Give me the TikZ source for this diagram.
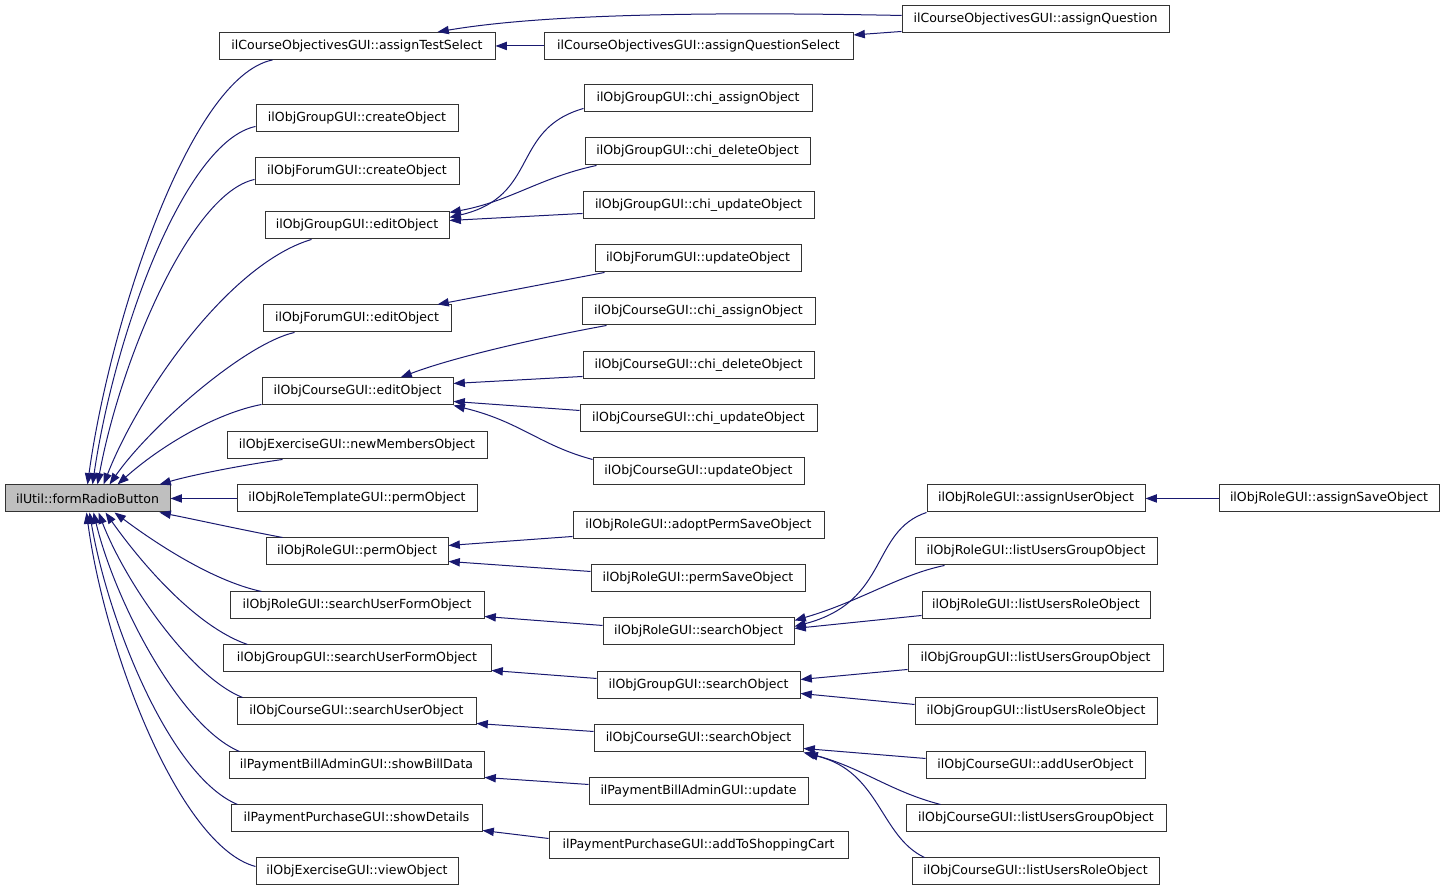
\documentclass[tikz,border=0pt]{standalone}
\usepackage{fontspec}
\setmainfont{DejaVu Sans}
\usetikzlibrary{arrows.meta,calc}
\definecolor{edgecol}{RGB}{25,25,112}
\definecolor{frbgray}{RGB}{191,191,191}
\begin{document}
\begin{tikzpicture}[x=0.75pt,y=-0.75pt,
  box/.style={draw=black!80, line width=0.75pt, fill=white, minimum height=20.25pt,
    inner xsep=2pt, inner ysep=0pt, font=\fontsize{9.4}{11}\selectfont},
  bw/.style={minimum width=#1*0.75pt},
  edge/.style={draw=edgecol, line width=0.75pt, -{Triangle[length=8.5pt,width=6.2pt]}}]
\fill[white] (0,0) rectangle (1445,892);
\useasboundingbox (0,0) rectangle (1445,892);
\begin{scope}[yshift=-1.1pt]
% column 0
\node[box,bw=165,fill=frbgray] (frb) at (87.5,497) {ilUtil::formRadioButton};

% column 1
\node[box,bw=276] (tsel)   at (357,44.5) {ilCourseObjectivesGUI::assignTestSelect};
\node[box,bw=202] (gcreate) at (357,117) {ilObjGroupGUI::createObject};
\node[box,bw=204] (fcreate) at (357,170) {ilObjForumGUI::createObject};
\node[box,bw=184] (gedit)  at (357,224) {ilObjGroupGUI::editObject};
\node[box,bw=188] (fedit)  at (357,317) {ilObjForumGUI::editObject};
\node[box,bw=191] (cedit)  at (357.5,390) {ilObjCourseGUI::editObject};
\node[box,bw=260] (exnew)  at (357,444) {ilObjExerciseGUI::newMembersObject};
\node[box,bw=240] (rtperm) at (357,497) {ilObjRoleTemplateGUI::permObject};
\node[box,bw=182] (rperm)  at (357,550) {ilObjRoleGUI::permObject};
\node[box,bw=254] (rsuf)   at (357,604) {ilObjRoleGUI::searchUserFormObject};
\node[box,bw=268] (gsuf)   at (357,657) {ilObjGroupGUI::searchUserFormObject};
\node[box,bw=239] (csuo)   at (356.5,710) {ilObjCourseGUI::searchUserObject};
\node[box,bw=255] (bill)   at (356.5,764) {ilPaymentBillAdminGUI::showBillData};
\node[box,bw=251] (pdet)   at (356.5,817) {ilPaymentPurchaseGUI::showDetails};
\node[box,bw=202] (exview) at (357,870) {ilObjExerciseGUI::viewObject};

% column 2
\node[box,bw=309] (qsel)   at (698.5,44.5) {ilCourseObjectivesGUI::assignQuestionSelect};
\node[box,bw=228] (gchia)  at (698,97) {ilObjGroupGUI::chi\_assignObject};
\node[box,bw=225] (gchid)  at (697.5,150) {ilObjGroupGUI::chi\_deleteObject};
\node[box,bw=231] (gchiu)  at (698.5,204) {ilObjGroupGUI::chi\_updateObject};
\node[box,bw=206] (fupd)   at (698,257) {ilObjForumGUI::updateObject};
\node[box,bw=233] (cchia)  at (698.5,310) {ilObjCourseGUI::chi\_assignObject};
\node[box,bw=231] (cchid)  at (698.5,364) {ilObjCourseGUI::chi\_deleteObject};
\node[box,bw=237] (cchiu)  at (698.5,417) {ilObjCourseGUI::chi\_updateObject};
\node[box,bw=211] (cupd)   at (698.5,470) {ilObjCourseGUI::updateObject};
\node[box,bw=251] (adopt)  at (698.5,524) {ilObjRoleGUI::adoptPermSaveObject};
\node[box,bw=214] (rpsave) at (698,577) {ilObjRoleGUI::permSaveObject};
\node[box,bw=191] (rsearch) at (698.5,630) {ilObjRoleGUI::searchObject};
\node[box,bw=203] (gsearch) at (698.5,684) {ilObjGroupGUI::searchObject};
\node[box,bw=209] (csearch) at (698.5,737) {ilObjCourseGUI::searchObject};
\node[box,bw=219] (bupd)   at (698.5,790) {ilPaymentBillAdminGUI::update};
\node[box,bw=299] (cart)   at (698.5,844) {ilPaymentPurchaseGUI::addToShoppingCart};

% column 3
\node[box,bw=267] (aq)      at (1035.5,18) {ilCourseObjectivesGUI::assignQuestion};
\node[box,bw=218] (rassign) at (1036,497) {ilObjRoleGUI::assignUserObject};
\node[box,bw=242] (rlug)    at (1036,550) {ilObjRoleGUI::listUsersGroupObject};
\node[box,bw=228] (rlur)    at (1036,604) {ilObjRoleGUI::listUsersRoleObject};
\node[box,bw=255] (glug)    at (1035.5,657) {ilObjGroupGUI::listUsersGroupObject};
\node[box,bw=242] (glur)    at (1036,710) {ilObjGroupGUI::listUsersRoleObject};
\node[box,bw=219] (cadd)    at (1035.5,764) {ilObjCourseGUI::addUserObject};
\node[box,bw=260] (clug)    at (1036,817) {ilObjCourseGUI::listUsersGroupObject};
\node[box,bw=247] (clur)    at (1035.5,870) {ilObjCourseGUI::listUsersRoleObject};

% column 4
\node[box,bw=220] (rsave) at (1329,497) {ilObjRoleGUI::assignSaveObject};

% ---- edges into formRadioButton (upper fan)
\draw[edge] ($(tsel.south west)+(54,0)$) .. controls (190,75) and (110,320) .. ($(frb.north west)+(83,0)$);
\draw[edge] ($(gcreate.west)+(0,8)$) .. controls (185,140) and (115,330) .. ($(frb.north west)+(88,0)$);
\draw[edge] ($(fcreate.west)+(0,8)$) .. controls (190,192) and (120,360) .. ($(frb.north west)+(93,0)$);
\draw[edge] ($(gedit.south west)+(47,0)$) .. controls (230,262) and (140,390) .. ($(frb.north west)+(99,0)$);
\draw[edge] ($(fedit.south west)+(32,0)$) .. controls (245,342) and (150,425) .. ($(frb.north west)+(105,0)$);
\draw[edge] ($(cedit.west)+(0,13)$) .. controls (215,412) and (160,445) .. ($(frb.north west)+(113,0)$);
\draw[edge] ($(exnew.south west)+(56,0)$) .. controls (240,464) and (190,474) .. ($(frb.north west)+(155,0)$);
\draw[edge] (rtperm.west) -- (frb.east);
% lower fan
\draw[edge] ($(rperm.north west)+(17,0)$) .. controls (240,528) and (195,518) .. ($(frb.south west)+(155,0)$);
\draw[edge] ($(rsuf.north west)+(32,0)$) .. controls (215,580) and (160,545) .. ($(frb.south west)+(110,0)$);
\draw[edge] ($(gsuf.north west)+(25,0)$) .. controls (195,625) and (140,560) .. ($(frb.south west)+(101,0)$);
\draw[edge] ($(csuo.north west)+(6,0)$) .. controls (190,675) and (125,580) .. ($(frb.south west)+(94,0)$);
\draw[edge] ($(bill.north west)+(11,0)$) .. controls (180,725) and (115,600) .. ($(frb.south west)+(89,0)$);
\draw[edge] ($(pdet.north west)+(7,0)$) .. controls (170,775) and (108,620) .. ($(frb.south west)+(85,0)$);
\draw[edge] ($(exview.west)+(0,-5)$) .. controls (180,845) and (105,650) .. ($(frb.south west)+(82,0)$);

% ---- column 2 -> column 1
\draw[edge] (qsel.west) -- (tsel.east);
\draw[edge] ($(aq.west)+(0,-4)$) .. controls (700,10) and (540,13) .. ($(tsel.north east)+(-58,0)$);
\draw[edge] ($(aq.west)+(0,12)$) -- ($(qsel.north east)+(0,3)$);

\draw[edge] ($(gchia.west)+(0,10)$) .. controls (510,128) and (540,195) .. ($(gedit.east)+(0,-8)$);
\draw[edge] ($(gchid.south west)+(12,0)$) .. controls (540,176) and (510,200) .. ($(gedit.north east)+(0,1)$);
\draw[edge] ($(gchiu.west)+(0,8)$) -- ($(gedit.east)+(0,-5)$);

\draw[edge] ($(fupd.south west)+(10,0)$) -- ($(fedit.north east)+(-14,0)$);

\draw[edge] ($(cchia.south west)+(25,0)$) .. controls (530,338) and (450,357) .. ($(cedit.north east)+(-53,0)$);
\draw[edge] ($(cchid.west)+(0,11)$) -- ($(cedit.east)+(0,-8)$);
\draw[edge] ($(cchiu.west)+(0,-8)$) -- ($(cedit.east)+(0,10)$);
\draw[edge] ($(cupd.west)+(0,-12)$) .. controls (540,444) and (520,420) .. (cedit.south east);

\draw[edge] ($(adopt.west)+(0,11)$) -- ($(rperm.east)+(0,-6)$);
\draw[edge] ($(rpsave.west)+(0,-7)$) -- ($(rperm.east)+(0,10)$);

\draw[edge] ($(rsearch.west)+(0,-6)$) -- ($(rsuf.east)+(0,11)$);
\draw[edge] ($(gsearch.west)+(0,-7)$) -- ($(gsuf.east)+(0,12)$);
\draw[edge] ($(csearch.west)+(0,-7)$) -- ($(csuo.east)+(0,12)$);
\draw[edge] ($(bupd.west)+(0,-7)$) -- ($(bill.east)+(0,12)$);
\draw[edge] ($(cart.west)+(0,-7)$) -- ($(pdet.east)+(0,12)$);

% ---- column 3 -> column 2
\draw[edge] (rassign.south west) .. controls (870,530) and (890,600) .. ($(rsearch.east)+(0,-5)$);
\draw[edge] ($(rlug.south west)+(30,0)$) .. controls (900,573) and (860,600) .. ($(rsearch.east)+(0,-11)$);
\draw[edge] ($(rlur.west)+(0,10)$) -- ($(rsearch.east)+(0,-3)$);

\draw[edge] ($(glug.west)+(0,11)$) -- ($(gsearch.east)+(0,-6)$);
\draw[edge] ($(glur.west)+(0,-7)$) -- ($(gsearch.east)+(0,8)$);

\draw[edge] ($(cadd.west)+(0,-7)$) -- ($(csearch.east)+(0,10)$);
\draw[edge] ($(clug.north west)+(35,0)$) .. controls (890,790) and (860,765) .. (csearch.south east);
\draw[edge] ($(clur.north west)+(13,0)$) .. controls (880,835) and (880,770) .. ($(csearch.south east)+(3,1)$);

% ---- column 4 -> column 3
\draw[edge] (rsave.west) -- (rassign.east);
\end{scope}
\end{tikzpicture}
\end{document}
